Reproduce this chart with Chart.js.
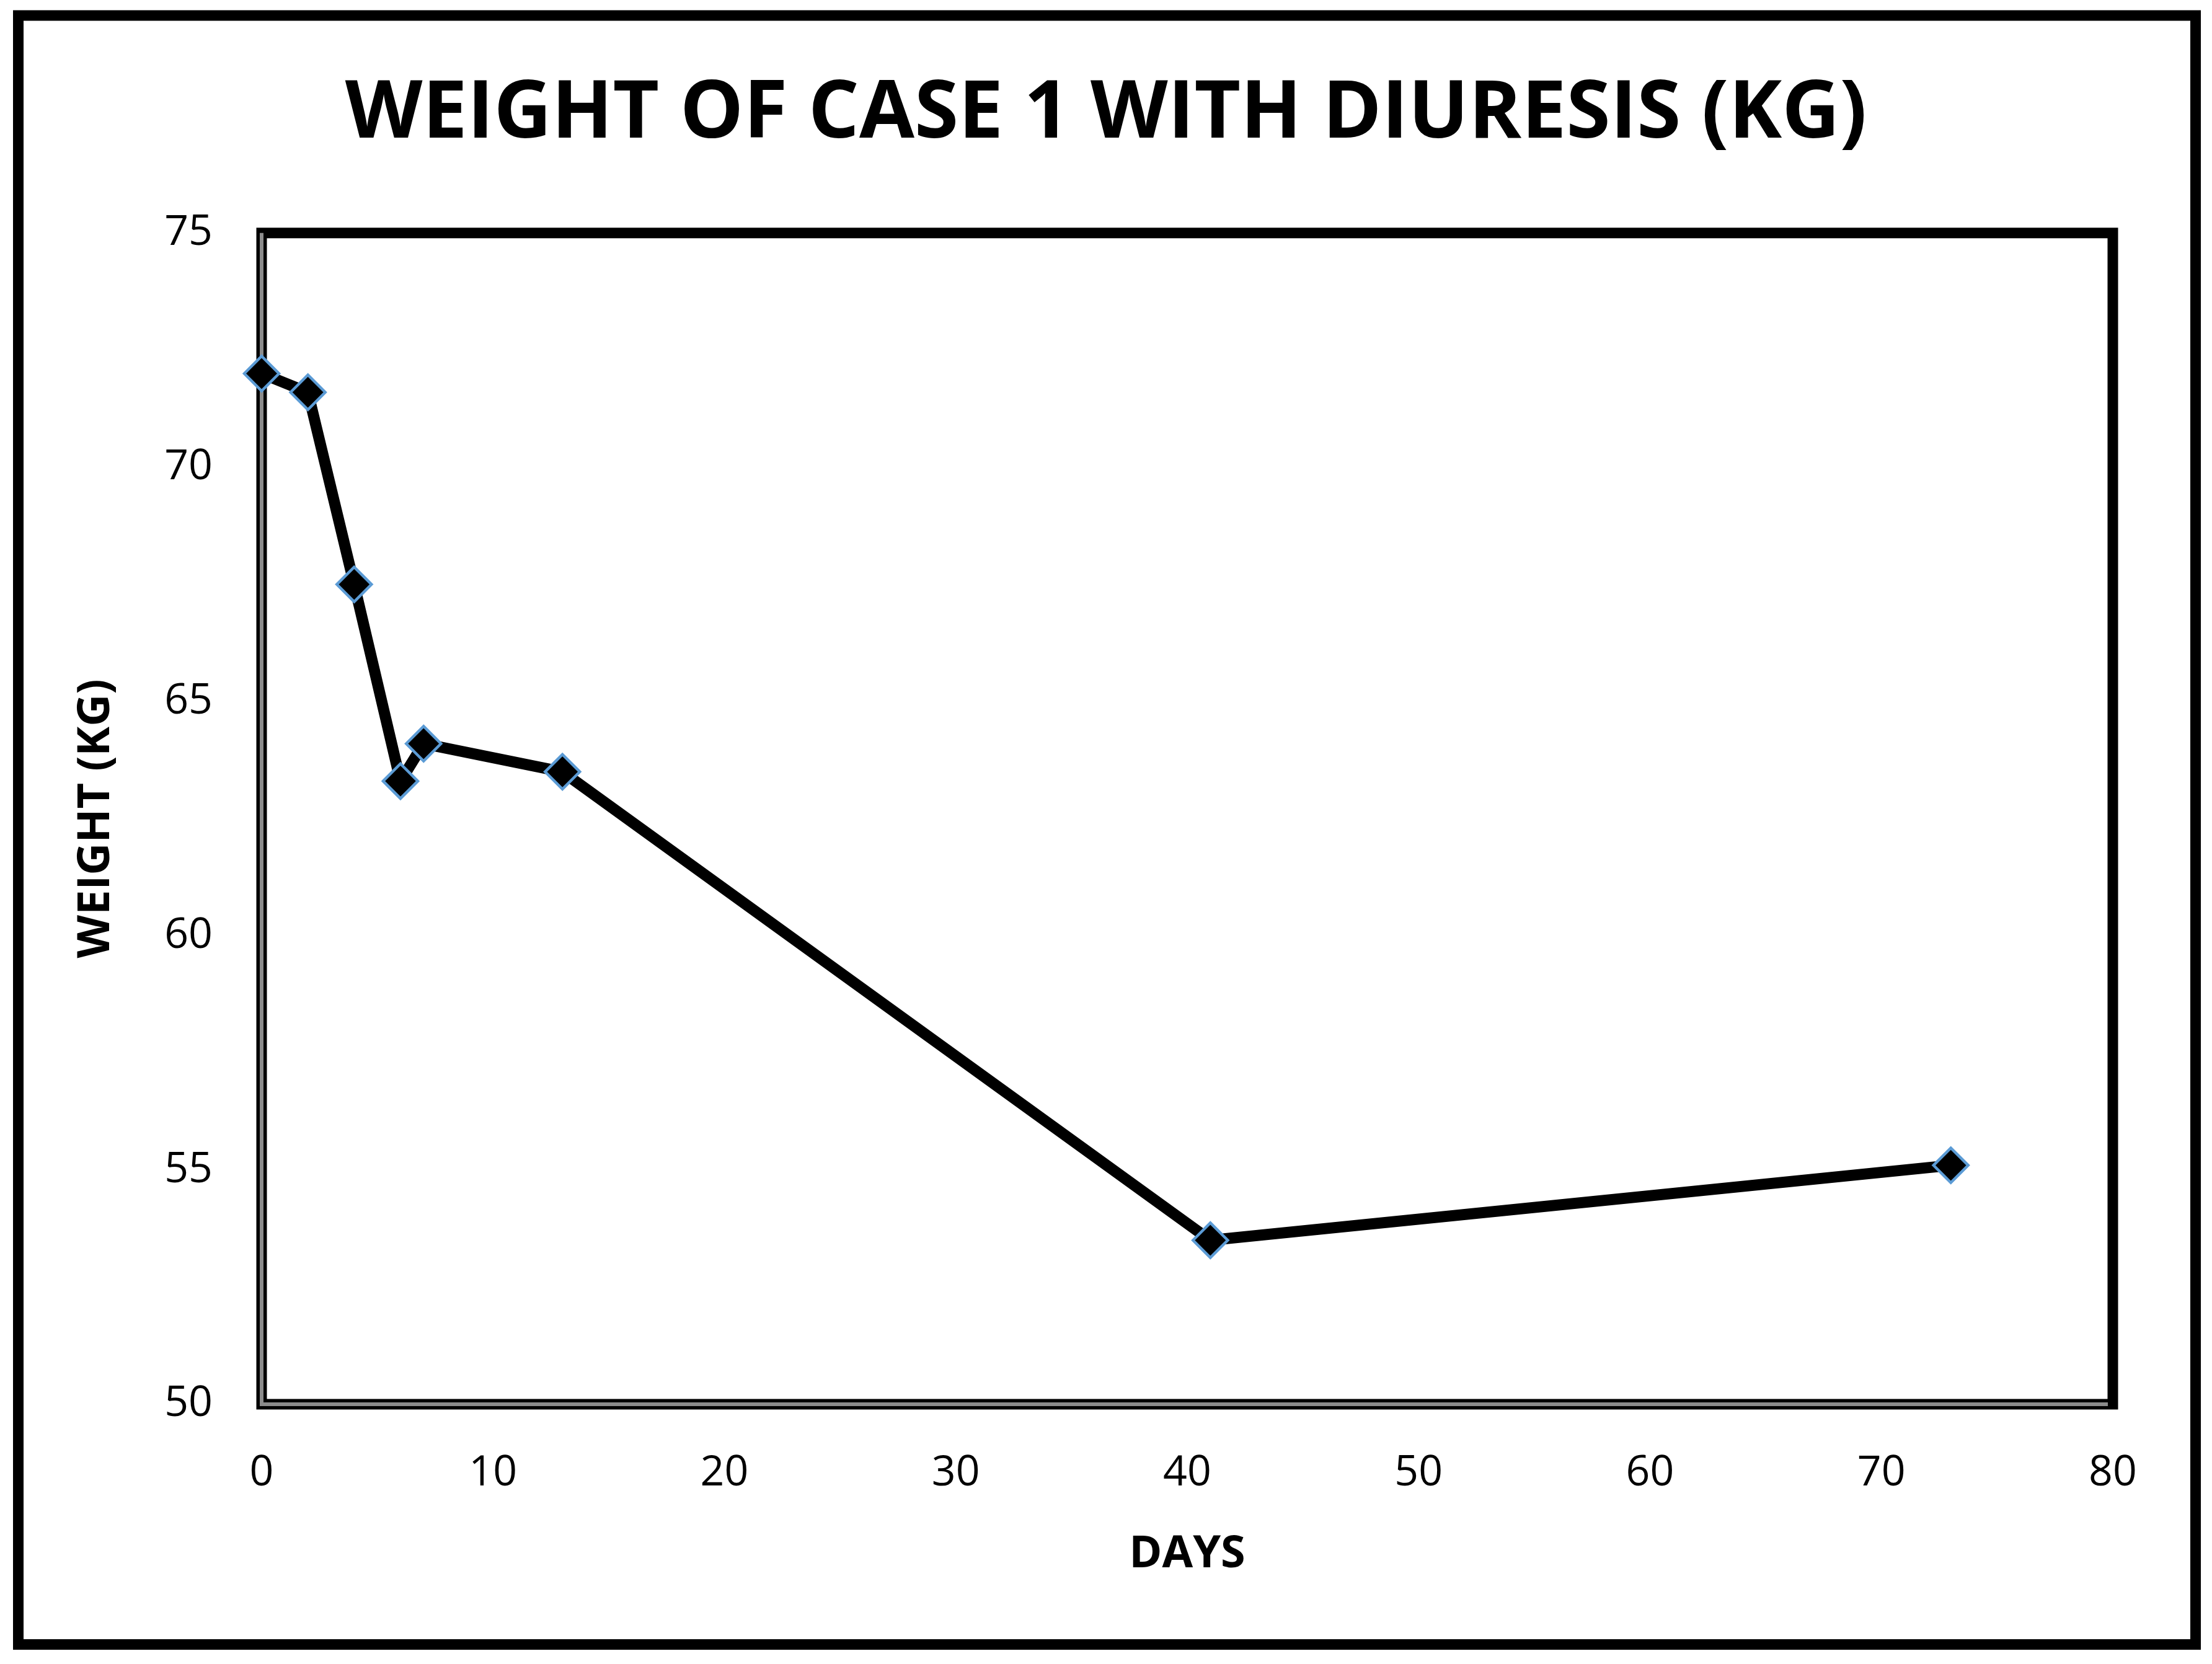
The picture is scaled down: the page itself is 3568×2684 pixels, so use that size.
<!DOCTYPE html>
<html>
<head>
<meta charset="utf-8">
<script src="https://cdn.jsdelivr.net/npm/chart.js@4"></script>
<style>
  html, body { margin: 0; padding: 0; background: #fff; }
  #wrap { width: 3568px; height: 2684px; }
</style>
</head>
<body>
<div id="wrap"><canvas id="chart" width="3568" height="2684"></canvas></div>
<script>
const days = [0, 2, 4, 6, 7, 13, 41, 73];
const weights = [72.0, 71.6, 67.5, 63.3, 64.1, 63.5, 53.5, 55.1];
const xTicks = [0, 10, 20, 30, 40, 50, 60, 70, 80];
const yTicks = [50, 55, 60, 65, 70, 75];

const points = days.map((d, i) => ({ x: d, y: weights[i] }));

// frame round the plot area: black box, grey inner line on left and bottom
const plotFrame = {
  id: "plotFrame",
  beforeDatasetsDraw(chart) {
    const { ctx, chartArea: a } = chart;
    ctx.save();
    ctx.strokeStyle = "#000";
    ctx.lineWidth = 17;
    ctx.strokeRect(a.left, a.top, a.right - a.left, a.bottom - a.top);
    ctx.strokeStyle = "#8c8c8c";
    ctx.lineWidth = 6;
    ctx.beginPath();
    ctx.moveTo(a.left, a.top);
    ctx.lineTo(a.left, a.bottom);
    ctx.lineTo(a.right - 8, a.bottom);
    ctx.stroke();
    ctx.restore();
  },
  afterDraw(chart) {
    const ctx = chart.ctx;
    ctx.save();
    ctx.strokeStyle = "#000";
    ctx.lineWidth = 17;
    ctx.strokeRect(29.5, 25, 3541.5 - 29.5, 2652.5 - 25);
    ctx.restore();
  },
};

Chart.defaults.font.family = "'Open Sans', sans-serif";
Chart.defaults.color = "#000";

const config = {
  type: "scatter",
  data: {
    datasets: [
      {
        data: points,
        showLine: true,
        borderColor: "#000",
        borderWidth: 18,
        pointStyle: "rectRot",
        pointRadius: 28,
        pointBackgroundColor: "#000",
        pointBorderColor: "#5b9bd5",
        pointBorderWidth: 4.5,
        clip: false,
      },
    ],
  },
  options: {
    responsive: false,
    animation: false,
    devicePixelRatio: 1,
    events: [],
    layout: { padding: 0 },
    plugins: {
      legend: { display: false },
      tooltip: { enabled: false },
      title: {
        display: true,
        text: "WEIGHT OF CASE 1 WITH DIURESIS (KG)",
        font: { size: 129, weight: "bold" },
        padding: { top: 108, bottom: 113 },
      },
    },
    scales: {
      x: {
        type: "linear",
        min: 0,
        max: 80,
        afterBuildTicks: (s) => { s.ticks = xTicks.map((v) => ({ value: v })); },
        afterFit: (s) => { s.height = 419; },
        grid: { display: false, drawTicks: false },
        border: { display: false },
        ticks: { font: { size: 68 }, padding: 71 },
        title: {
          display: true,
          text: "DAYS",
          font: { size: 72, weight: "bold" },
          padding: { top: 0, bottom: 133 },
        },
      },
      y: {
        type: "linear",
        min: 50,
        max: 75,
        afterBuildTicks: (s) => { s.ticks = yTicks.map((v) => ({ value: v })); },
        afterFit: (s) => { s.width = 422; },
        grid: { display: false, drawTicks: false },
        border: { display: false },
        ticks: { font: { size: 68 }, padding: 79 },
        title: {
          display: true,
          text: "WEIGHT (KG)",
          font: { size: 72, weight: "bold" },
          padding: { top: 112, bottom: 0 },
        },
      },
      // empty right-hand margin so the title stays centred on the page
      yRight: {
        type: "linear",
        position: "right",
        min: 50,
        max: 75,
        afterFit: (s) => { s.width = 160; },
        grid: { display: false, drawTicks: false },
        border: { display: false },
        ticks: { display: false },
      },
    },
  },
  plugins: [plotFrame],
};

const myChart = new Chart(document.getElementById("chart"), config);
</script>
</body>
</html>
